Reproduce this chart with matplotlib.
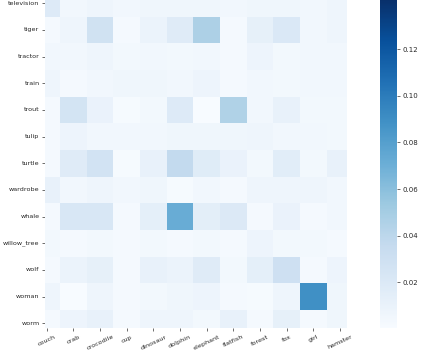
import numpy as np
import matplotlib
matplotlib.use("Agg")
import matplotlib.pyplot as plt
import seaborn as sns

col_labels = ["couch", "crab", "crocodile", "cup", "dinosaur", "dolphin",
              "elephant", "flatfish", "forest", "fox", "girl", "hamster"]
row_labels = ["television", "tiger", "tractor", "train", "trout", "tulip",
              "turtle", "wardrobe", "whale", "willow_tree", "wolf", "woman", "worm"]

television = [0.019, 0.005, 0.007, 0.005, 0.006, 0.006, 0.006, 0.005, 0.006, 0.006, 0.005, 0.007]
tiger      = [0.003, 0.007, 0.028, 0.003, 0.009, 0.018, 0.047, 0.003, 0.013, 0.021, 0.005, 0.007]
tractor    = [0.005, 0.005, 0.007, 0.004, 0.005, 0.004, 0.005, 0.003, 0.008, 0.004, 0.005, 0.005]
train      = [0.007, 0.003, 0.005, 0.006, 0.006, 0.005, 0.008, 0.003, 0.005, 0.004, 0.005, 0.005]
trout      = [0.003, 0.026, 0.010, 0.002, 0.004, 0.019, 0.001, 0.045, 0.005, 0.011, 0.004, 0.004]
tulip      = [0.003, 0.008, 0.005, 0.005, 0.005, 0.006, 0.006, 0.006, 0.007, 0.005, 0.005, 0.004]
turtle     = [0.003, 0.018, 0.027, 0.002, 0.011, 0.037, 0.017, 0.010, 0.004, 0.016, 0.004, 0.011]
wardrobe   = [0.011, 0.005, 0.007, 0.005, 0.006, 0.002, 0.005, 0.003, 0.007, 0.007, 0.007, 0.005]
whale      = [0.003, 0.023, 0.023, 0.003, 0.014, 0.072, 0.015, 0.020, 0.003, 0.010, 0.003, 0.005]
willow_tree = [0.004, 0.003, 0.004, 0.003, 0.004, 0.003, 0.004, 0.003, 0.008, 0.004, 0.004, 0.003]
wolf       = [0.003, 0.009, 0.013, 0.003, 0.011, 0.009, 0.018, 0.004, 0.014, 0.030, 0.003, 0.008]
woman      = [0.007, 0.001, 0.007, 0.003, 0.004, 0.006, 0.008, 0.003, 0.002, 0.007, 0.089, 0.006]
worm       = [0.003, 0.008, 0.011, 0.003, 0.007, 0.007, 0.004, 0.011, 0.003, 0.013, 0.003, 0.006]

data = np.array([television, tiger, tractor, train, trout, tulip, turtle,
                 wardrobe, whale, willow_tree, wolf, woman, worm])

sns.set_theme(style="white")
plt.rcParams['font.family'] = ['DejaVu Sans']

W, H = 423, 352
fig = plt.figure(figsize=(W / 100, H / 100), dpi=100)

def box(x0, x1, y0, y1):
    return [x0 / W, 1 - y1 / H, (x1 - x0) / W, (y1 - y0) / H]

ax = fig.add_axes(box(45, 347, 0, 328))
cax = fig.add_axes(box(380, 397, 0, 328))

sns.heatmap(data, ax=ax, cbar_ax=cax, cmap="Blues", vmin=0.0005, vmax=0.141,
            xticklabels=col_labels, yticklabels=row_labels)
ax.set_xlim(0.44, 11.76)
ax.set_ylim(12.68, 0.375)

ax.tick_params(axis='both', which='both', length=2.5, width=0.6, color='#555555',
               labelsize=4.6, labelcolor='#262626', bottom=True, left=True, pad=1.5)
ax.tick_params(axis='x', pad=2)
for t in ax.get_xticklabels():
    t.set_rotation(25)
    t.set_ha('center')
for t in ax.get_yticklabels():
    t.set_rotation(0)

cax.tick_params(labelsize=5.0, length=2.5, width=0.6, color='#555555',
                labelcolor='#262626', right=True, pad=1.5)
cax.set_yticks([0.02, 0.04, 0.06, 0.08, 0.10, 0.12])
cax.set_yticklabels(["0.02", "0.04", "0.06", "0.08", "0.10", "0.12"])

fig.savefig("out.png", dpi=100)
